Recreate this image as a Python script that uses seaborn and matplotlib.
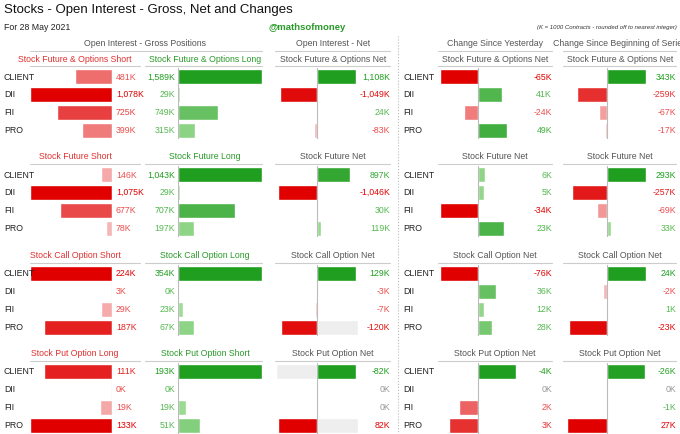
import matplotlib.pyplot as plt
import matplotlib.colors as mcolors
import numpy as np
import pandas as pd
import seaborn as sns

participants = ["CLIENT", "DII", "FII", "PRO"]

# block 1: stock future & options
fo_short = [481, 1078, 725, 399]
fo_long = [1589, 29, 749, 315]
fo_net = [1108, -1049, 24, -83]
fo_yest = [-65, 41, -24, 49]
fo_series = [343, -259, -67, -17]
# block 2: stock futures
fut_short = [146, 1075, 677, 78]
fut_long = [1043, 29, 707, 197]
fut_net = [897, -1046, 30, 119]
fut_yest = [6, 5, -34, 23]
fut_series = [293, -257, -69, 33]
# block 3: call options
call_short = [224, 3, 29, 187]
call_long = [354, 0, 23, 67]
call_net = [129, -3, -7, -120]
call_yest = [-76, 36, 12, 28]
call_series = [24, -2, 1, -23]
# block 4: put options (bars drawn with reversed sign)
put_long = [111, 0, 19, 133]
put_short = [193, 0, 19, 51]
put_net = [-82, 0, 0, 82]
put_yest = [-4, 0, 2, 3]
put_series = [-26, 0, -1, 27]

blocks = [
    ("Stock Future & Options Short", fo_short, "Stock Future & Options Long", fo_long,
     "Stock Future & Options Net", fo_net, fo_yest, fo_series, 1),
    ("Stock Future Short", fut_short, "Stock Future Long", fut_long,
     "Stock Future Net", fut_net, fut_yest, fut_series, 1),
    ("Stock Call Option Short", call_short, "Stock Call Option Long", call_long,
     "Stock Call Option Net", call_net, call_yest, call_series, 1),
    ("Stock Put Option Long", put_long, "Stock Put Option Short", put_short,
     "Stock Put Option Net", put_net, put_yest, put_series, -1),
]
highlight = {(2, 3), (3, 0), (3, 3)}  # grey band on net panel

W, H = 680, 434
FS = 6.3
sns.set_style("white")
plt.rcParams['font.family'] = ['Liberation Sans Narrow', 'Liberation Sans', 'DejaVu Sans']
fig = plt.figure(figsize=(6.8, 4.34), dpi=100)
fig.patch.set_facecolor("white")

RED_D, RED_L = np.array(mcolors.to_rgb("#e00000")), np.array(mcolors.to_rgb("#f9c4c4"))
GRN_D, GRN_L = np.array(mcolors.to_rgb("#1f9e1f")), np.array(mcolors.to_rgb("#a8e09f"))
GREY = "#555555"


def shade(v, m, red):
    t = min(abs(v) / m, 1) if m else 0
    d, l = (RED_D, RED_L) if red else (GRN_D, GRN_L)
    return tuple(l + (d - l) * t)


def ftext(x, y, s, **kw):
    kw.setdefault("fontsize", FS)
    fig.text(x / W, 1 - y / H, s, **kw)


def hline(x0, x1, y, **kw):
    fig.add_artist(plt.Line2D([x0 / W, x1 / W], [1 - y / H, 1 - y / H], transform=fig.transFigure, **kw))


def panel(x0, x1, top, vals, kind, bar_sign=1):
    ax = fig.add_axes([x0 / W, 1 - (top + 71) / H, (x1 - x0) / W, 71 / H])
    bars = [v * bar_sign for v in vals]
    m = max(abs(b) for b in bars) or 1
    if kind == "short":
        cols = [shade(b, m, True) for b in bars]
    elif kind == "long":
        cols = [shade(b, m, False) for b in bars]
    else:
        cols = [shade(b, m, b < 0) for b in bars]
    df = pd.DataFrame({"p": participants, "v": bars})
    sns.barplot(data=df, x="v", y="p", hue="p", palette=cols, legend=False,
                width=0.85, ax=ax, orient="h", saturation=1)
    if kind == "short":
        ax.set_xlim(m, 0)
    elif kind == "long":
        ax.set_xlim(0, m)
    else:
        ax.set_xlim(-m * 1.05, m * 1.05)
    ax.axvline(0, color="#bbbbbb", lw=0.8)
    ax.set_ylim(3.5, -0.5)
    ax.axis("off")
    return ax, bars


for b, (sname, sv, lname, lv, nname, nv, yv, srv, sign) in enumerate(blocks):
    top = [68, 166, 265, 363][b]
    hy = top - 9
    ftext(75, hy, sname, color="#e03030", ha="center", va="center")
    ftext(205, hy, lname, color="#2a9a2a", ha="center", va="center")
    ftext(333, hy, nname, color=GREY, ha="center", va="center")
    ftext(495, hy, nname, color=GREY, ha="center", va="center")
    ftext(620, hy, nname, color=GREY, ha="center", va="center")
    for a, c in [(30, 140), (145, 262), (275, 390), (438, 552), (563, 676)]:
        hline(a, c, top - 2, color="#cccccc", lw=0.8)

    rows_y = [top + 9 + 17.7 * i for i in range(4)]
    for i, p in enumerate(participants):
        ftext(4, rows_y[i], p, color="#222222", va="center")
        ftext(403, rows_y[i], p, color="#222222", va="center")

    panel(30, 112, top, sv, "short")
    m = max(sv)
    for i, v in enumerate(sv):
        ftext(116, rows_y[i], f"{v:,}K", color=shade(max(v, 0.6 * m), m, True), va="center")
    panel(178, 262, top, lv, "long")
    m = max(lv)
    for i, v in enumerate(lv):
        ftext(175, rows_y[i], f"{v:,}K", color=shade(max(v, 0.6 * m), m, False),
              ha="right", va="center")

    for (x0, x1, lx, vals) in [(276, 358, 390, nv), (438, 518, 552, yv), (565, 648, 676, srv)]:
        ax, bars = panel(x0, x1, top, vals, "net", sign)
        m = max(abs(x) for x in bars) or 1
        if x0 == 276:
            for i in range(4):
                if (b, i) in highlight:
                    ax.barh(i, -np.sign(bars[i]) * m * 1.05, height=0.85, color="#eeeeee", zorder=0)
        for i, v in enumerate(vals):
            bv = bars[i]
            c = "#999999" if v == 0 else shade(max(abs(bv), 0.6 * m), m, bv < 0)
            ftext(lx, rows_y[i], f"{v:,}K", color=c, ha="right", va="center")

# top headers
ftext(4, 10, "Stocks - Open Interest - Gross, Net and Changes", fontsize=9.5, va="center", color="#111111")
ftext(4, 27, "For 28 May 2021", fontsize=6.3, va="center", color="#222222")
ftext(307, 27, "@mathsofmoney", fontsize=6.8, va="center", ha="center", color="#2a9a2a", fontweight="bold")
ftext(677, 27, "(K = 1000 Contracts - rounded off to nearest integer)", fontsize=4.3, va="center",
      ha="right", style="italic", color="#333333")
for txt, xc, a, c in [("Open Interest - Gross Positions", 145, 30, 262),
                      ("Open Interest - Net", 333, 275, 390),
                      ("Change Since Yesterday", 495, 438, 552),
                      ("Change Since Beginning of Series", 620, 563, 676)]:
    ftext(xc, 44, txt, ha="center", va="center", color=GREY)
    hline(a, c, 51, color="#cccccc", lw=0.8)

fig.add_artist(plt.Line2D([398 / W, 398 / W], [1 - 36 / H, 0], transform=fig.transFigure,
                          color="#bbbbbb", lw=0.8, ls=":"))

fig.savefig("out.png", dpi=100, facecolor="white")
